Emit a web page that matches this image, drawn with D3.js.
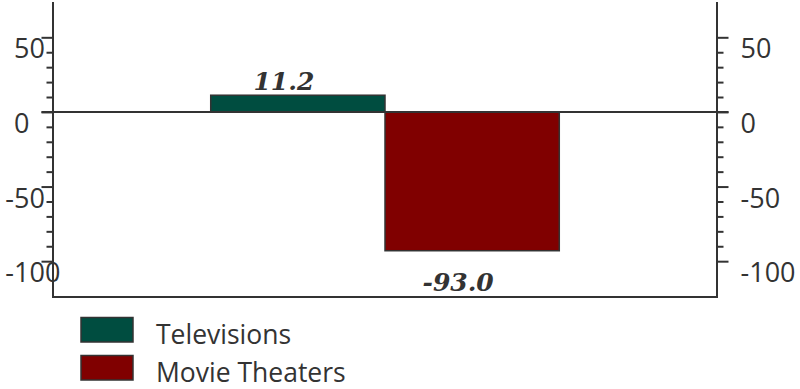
<!DOCTYPE html>
<html>
<head>
<meta charset="utf-8">
<script src="https://cdn.jsdelivr.net/npm/d3@7"></script>
<style>
  html, body { margin: 0; padding: 0; background: #fff; }
  svg { display: block; }
</style>
</head>
<body>
<svg id="chart" width="800" height="389"></svg>
<script>
// ---- data ----
const categories = ["Televisions", "Movie Theaters"];
const values = [11.2, -93.0];
const majorTicks = [50, 0, -50, -100];
const minorTicks = [40, 30, 20, 10, -10, -20, -30, -40, -60, -70, -80, -90];
const valueLabels = ["11.2", "-93.0"];

(function () {
// ---- layout ----
const plotLeft = 53, plotRight = 717, plotTop = 0, plotBottom = 297;
const ink = "#333333";
const tickFmt = d => String(d);

const svg = d3.select("#chart");

const y = d3.scaleLinear().domain([-124, 75]).range([plotBottom, plotTop]);
const x = d3.scaleBand().domain(categories).range([plotLeft, plotRight])
  .paddingInner(0).paddingOuter(0.905);
const color = d3.scaleOrdinal().domain(categories).range(["#004d40", "#800000"]);

// bars
svg.append("g").selectAll("rect")
  .data(categories.map((c, i) => ({c, v: values[i]})))
  .join("rect")
  .attr("x", d => x(d.c))
  .attr("y", d => y(Math.max(0, d.v)))
  .attr("width", x.bandwidth())
  .attr("height", d => Math.abs(y(d.v) - y(0)))
  .attr("fill", d => color(d.c))
  .attr("stroke", ink)
  .attr("stroke-width", 1.5);

// axes
function styleAxis(g) {
  g.selectAll("path, line").attr("stroke", ink).attr("stroke-width", 2);
  g.selectAll("text").attr("fill", ink)
    .style("font-family", "'Open Sans', sans-serif").style("font-size", "27px");
}

const leftMajor = svg.append("g").attr("transform", `translate(${plotLeft},0)`)
  .call(d3.axisLeft(y).tickValues(majorTicks).tickSize(11.5).tickSizeOuter(0).tickFormat(tickFmt));
leftMajor.select(".domain").attr("d", `M0,${plotTop + 2}V${plotBottom}`);
styleAxis(leftMajor);
leftMajor.selectAll("text")
  .attr("text-anchor", "start")
  .attr("x", d => 14 - plotLeft + (d < 0 ? -8.7 : 0))
  .attr("dy", null)
  .attr("y", 20.5);

const leftMinor = svg.append("g").attr("transform", `translate(${plotLeft},0)`)
  .call(d3.axisLeft(y).tickValues(minorTicks).tickSize(6.5).tickFormat(""));
leftMinor.select(".domain").remove();
styleAxis(leftMinor);

const rightMajor = svg.append("g").attr("transform", `translate(${plotRight},0)`)
  .call(d3.axisRight(y).tickValues(majorTicks).tickSize(11.5).tickSizeOuter(0).tickFormat(tickFmt));
rightMajor.select(".domain").attr("d", `M0,${plotTop + 2}V${plotBottom}`);
styleAxis(rightMajor);
rightMajor.selectAll("text")
  .attr("text-anchor", "start")
  .attr("x", 740.5 - plotRight)
  .attr("dy", null)
  .attr("y", 20.5);

const rightMinor = svg.append("g").attr("transform", `translate(${plotRight},0)`)
  .call(d3.axisRight(y).tickValues(minorTicks).tickSize(6.5).tickFormat(""));
rightMinor.select(".domain").remove();
styleAxis(rightMinor);

// zero line
svg.append("line")
  .attr("x1", plotLeft - 11.5).attr("x2", plotRight + 11.5)
  .attr("y1", y(0)).attr("y2", y(0))
  .attr("stroke", ink).attr("stroke-width", 2);

// bottom frame line
svg.append("line")
  .attr("x1", plotLeft - 1).attr("x2", plotRight + 1)
  .attr("y1", plotBottom).attr("y2", plotBottom)
  .attr("stroke", ink).attr("stroke-width", 2);

// value labels
svg.append("g").selectAll("text")
  .data(categories.map((c, i) => ({c, v: values[i], t: valueLabels[i]})))
  .join("text")
  .attr("x", d => x(d.c) + x.bandwidth() / 2 - 14)
  .attr("y", d => d.v >= 0 ? y(d.v) - 5.5 : y(d.v) + 40)
  .attr("text-anchor", "middle")
  .attr("fill", ink)
  .style("font-family", "'DejaVu Serif', serif")
  .style("font-weight", "bold")
  .style("font-style", "italic")
  .style("font-size", "25px")
  .text(d => d.t);

// legend
const legend = svg.append("g").selectAll("g")
  .data(categories)
  .join("g")
  .attr("transform", (d, i) => `translate(81,${317.5 + i * 38})`);
legend.append("rect")
  .attr("width", 52).attr("height", 24.5)
  .attr("fill", d => color(d))
  .attr("stroke", ink).attr("stroke-width", 1.5);
legend.append("text")
  .attr("x", 75).attr("y", 26.5)
  .attr("fill", ink)
  .style("font-family", "'Open Sans', sans-serif")
  .style("font-size", "26.5px")
  .text(d => d);
})();
</script>
</body>
</html>
